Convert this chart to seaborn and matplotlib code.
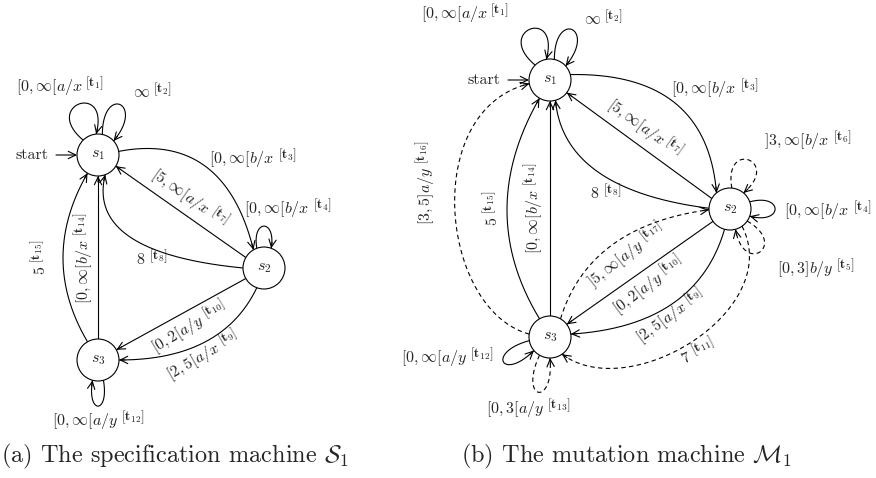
import numpy as np
import matplotlib.pyplot as plt
import seaborn as sns
from math import comb

sns.set_theme(style="white")
plt.rcParams["font.family"] = ["cmr10", "DejaVu Serif"]
plt.rcParams["mathtext.fontset"] = "cm"
plt.rcParams["axes.unicode_minus"] = False

# ---- data ----
state_names = ["s_1", "s_2", "s_3"]
start_text = "start"

spec_trans = ["1", "2", "3", "4", "7", "8", "9", "10", "12", "14", "15"]
spec_guards = [r"[0,\infty[a/x", r"\infty", r"[0,\infty[b/x", r"[0,\infty[b/x",
               r"[5,\infty[a/x", r"8", r"[2,5[a/x", r"[0,2[a/y", r"[0,\infty[a/y",
               r"[0,\infty[b/x", r"5"]

mut_trans = ["1", "2", "3", "4", "5", "6", "7", "8", "9", "10", "11", "12", "13",
             "14", "15", "16", "17"]
mut_guards = [r"[0,\infty[a/x", r"\infty", r"[0,\infty[b/x", r"[0,\infty[b/x",
              r"[0,3]b/y", r"]3,\infty[b/x", r"[5,\infty[a/x", r"8", r"[2,5[a/x",
              r"[0,2[a/y", r"7", r"[0,\infty[a/y", r"[0,3[a/y", r"[0,\infty[b/x",
              r"5", r"[3,5]a/y", r"]5,\infty[a/y"]
mut_dashed = [False, False, False, False, True, True, False, False, False,
              False, True, False, True, False, False, True, True]

captions = [r"(a) The specification machine $\mathcal{S}_1$",
            r"(b) The mutation machine $\mathcal{M}_1$"]

# ---- layout (pixel coords, y downwards) ----
R = 21
LW = 0.8
FS = 11.5
SFS = 9.5
GAP = 3
RAISE = 5
CAP_FS = 17.5

spec_pos = {1: (98, 155), 2: (264, 268), 3: (98, 360)}
spec_layout = {
    "1": (1, 1, ("loop", 135, 95, 140, 75, 55), (60, 86), 0),
    "2": (1, 1, ("loop", 78, 42, 90, 50, 50), (152, 92), 0),
    "3": (1, 2, ("arc", 10, 120, (205, 166)), (253, 158), 0),
    "4": (2, 2, ("loop", 110, 70, 100, 80, 30), (288, 208), 0),
    "7": (2, 1, ("line", 150, -32), (190, 198), -35),
    "8": (2, 1, ("arc", 180, -70, (130, 237)), (152, 259), 0),
    "9": (2, 3, ("arc", -110, 0, (205, 342)), (203, 355), 30),
    "10": (2, 3, ("line", 210, 29), (189, 327), 31),
    "12": (3, 3, ("loop", -75, -105, -80, -100, 35), (98, 420), 0),
    "14": (3, 1, ("line", 90, -90), (83, 258), 90),
    "15": (3, 1, ("arc", 120, -120, (63, 258)), (40, 257), 90),
}

mut_pos = {1: (550, 80), 2: (730, 209), 3: (550, 337)}
mut_layout = {
    "1": (1, 1, ("loop", 135, 100, 140, 75, 55), (465, 13), 0),
    "2": (1, 1, ("loop", 78, 42, 90, 50, 50), (603, 19), 0),
    "3": (1, 2, ("arc", 15, 130, (675, 103)), (715, 88), 0),
    "4": (2, 2, ("loop", 20, -20, 15, -15, 35), (828, 210), 0),
    "5": (2, 2, ("loop", -35, -75, -30, -80, 48), (816, 268), 0),
    "6": (2, 2, ("loop", 85, 50, 100, 40, 50), (808, 140), 0),
    "7": (2, 1, ("line", 150, -37), (645, 128), -36),
    "8": (2, 1, ("arc", 178, -75, (598, 172)), (606, 193), 0),
    "9": (2, 3, ("arc", -105, 8, (672, 304)), (670, 316), 36),
    "10": (2, 3, ("line", 216, 37), (648, 285), 37),
    "11": (2, 3, ("cubic", -55, -55, (785, 310), (630, 405)), (698, 352), 27),
    "12": (3, 3, ("loop", 190, 220, 195, 225, 45), (447, 357), 0),
    "13": (3, 3, ("loop", -120, -90, -115, -85, 50), (528, 408), 0),
    "14": (3, 1, ("line", 90, -90), (533, 208), 90),
    "15": (3, 1, ("arc", 120, -120, (507, 210)), (492, 208), 90),
    "16": (3, 1, ("cubic", 172, 190, (440, 310), (420, 110)), (425, 183), 90),
    "17": (3, 2, ("arc", 60, 182, (612, 245)), (626, 255), 38),
}


def u(a):
    a = np.radians(a)
    return np.array([np.cos(a), -np.sin(a)])


def control_points(shape, c_src, c_dst):
    kind = shape[0]
    p0 = c_src + R * u(shape[1])
    p3 = c_dst + R * u(shape[2])
    if kind == "line":
        return [p0, p3]
    if kind == "arc":
        via = np.array(shape[3], float)
        return [p0, 2 * via - 0.5 * (p0 + p3), p3]
    if kind == "loop":
        d_out, d_in, L = shape[3:]
        return [p0, p0 + L * u(d_out), p3 + L * u(d_in), p3]
    return [p0, np.array(shape[3], float), np.array(shape[4], float), p3]


def bezier(pts, n=150):
    pts = np.array(pts, float)
    t = np.linspace(0, 1, n)[:, None]
    k = len(pts) - 1
    return sum(comb(k, i) * (1 - t) ** (k - i) * t ** i * pts[i] for i in range(k + 1))


def arrow_head(ax, curve):
    end = curve[-1]
    tan = curve[-1] - curve[-4]
    tan = tan / np.linalg.norm(tan)
    ax.annotate("", xy=end, xytext=end - 6 * tan, annotation_clip=False,
                arrowprops=dict(arrowstyle="->,head_length=0.45,head_width=0.22",
                                lw=LW, color="black", shrinkA=0, shrinkB=0))


def text_width(ax, s, size):
    t = ax.text(0, 0, s, fontsize=size)
    w = t.get_window_extent(ax.figure.canvas.get_renderer()).width
    t.remove()
    return w


def edge_label(ax, xy, rot, guard, name):
    main = "$%s$" % guard
    sup = r"$[\mathbf{t}_{\mathbf{%s}}]$" % name
    w1 = text_width(ax, main, FS)
    w2 = text_width(ax, sup, SFS)
    total = w1 + GAP + w2
    r = np.radians(rot)
    d = np.array([np.cos(r), -np.sin(r)])
    up = np.array([-np.sin(r), -np.cos(r)])
    em = FS * 100 / 72
    base = np.array(xy, float) - total / 2 * d - 0.3 * em * up
    ax.text(base[0], base[1], main, rotation=rot, rotation_mode="anchor",
            ha="left", va="baseline", fontsize=FS)
    p = base + (w1 + GAP) * d + RAISE * up
    ax.text(p[0], p[1], sup, rotation=rot, rotation_mode="anchor",
            ha="left", va="baseline", fontsize=SFS)


def draw_machine(ax, pos, layout, trans, guards, dashed, start_xy):
    for name, guard, dsh in zip(trans, guards, dashed):
        src, dst, shape, lab_xy, rot = layout[name]
        pts = control_points(shape, np.array(pos[src], float), np.array(pos[dst], float))
        curve = bezier(pts)
        sns.lineplot(x=curve[:, 0], y=curve[:, 1], sort=False, estimator=None, ax=ax,
                     color="black", lw=LW, linestyle=(0, (4, 3)) if dsh else "-")
        arrow_head(ax, curve)
        edge_label(ax, lab_xy, rot, guard, name)

    for i, s in enumerate(state_names, start=1):
        cx, cy = pos[i]
        ax.add_patch(plt.Circle((cx, cy), R, facecolor="white", edgecolor="black",
                                lw=LW, zorder=5))
        ax.text(cx, cy, "$%s$" % s, ha="center", va="center", fontsize=FS, zorder=6)

    sx, sy = start_xy
    ax.text(sx, sy, start_text, ha="right", va="center", fontsize=FS)
    c1 = np.array(pos[1], float)
    ax.annotate("", xy=(c1[0] - R, sy), xytext=(sx + 7, sy),
                arrowprops=dict(arrowstyle="->,head_length=0.45,head_width=0.22",
                                lw=LW, color="black", shrinkA=0, shrinkB=0))


fig = plt.figure(figsize=(8.76, 4.78), dpi=100)
ax = fig.add_axes([0, 0, 1, 1])
ax.set_xlim(0, 876)
ax.set_ylim(478, 0)

draw_machine(ax, spec_pos, spec_layout, spec_trans, spec_guards,
             [False] * len(spec_trans), (49, 155))
draw_machine(ax, mut_pos, mut_layout, mut_trans, mut_guards, mut_dashed, (501, 80))

ax.text(1, 456, captions[0], ha="left", va="center", fontsize=CAP_FS)
ax.text(461, 456, captions[1], ha="left", va="center", fontsize=CAP_FS)

ax.set_xlim(0, 876)
ax.set_ylim(478, 0)
ax.axis("off")
fig.savefig("out.png", dpi=100, facecolor="white")
